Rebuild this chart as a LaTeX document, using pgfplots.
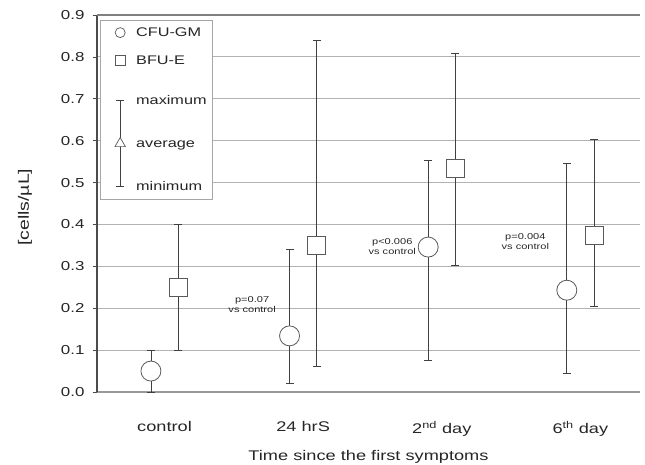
\documentclass[border=0pt]{standalone}
\usepackage{fontspec}
\setmainfont{Liberation Sans}[FakeStretch=1.3]
\usepackage{pgfplots}
\usepackage{pgfplotstable}
\pgfplotsset{compat=1.18}

% group centres at 0,1,2,3; CFU-GM left of centre, BFU-E right of centre
\pgfplotstableread{
x      avg    max    min
-0.098 0.050  0.100  0.000
0.902  0.134  0.340  0.021
1.902  0.346  0.553  0.076
2.902  0.243  0.546  0.045
}\cfugm
\pgfplotstableread{
x      avg    max    min
0.098  0.250  0.400  0.100
1.098  0.350  0.840  0.062
2.098  0.534  0.808  0.303
3.098  0.375  0.603  0.204
}\bfue

\pgfplotsset{
  whisker/.style={forget plot, only marks, mark=none,
    error bars/.cd, y dir=both, y explicit,
    error bar style={black!75, line width=0.8pt}, error mark=none},
  cap/.style={forget plot, only marks, mark=-, mark size=4pt,
    mark options={black!75, line width=0.8pt}},
}

\begin{document}
\begin{tikzpicture}
\useasboundingbox (-97pt,-72pt) rectangle (548pt,392pt);
\begin{axis}[
    scale only axis,
    width=543pt, height=377pt,
    xmin=-0.487, xmax=3.43,
    ymin=0, ymax=0.9,
    clip=false,
    axis x line*=bottom, axis y line*=left,
    axis line style={-},
    x axis line style={line width=2.2pt, black!40},
    y axis line style={line width=1.4pt, black!70},
    xtick={0,1,2,3},
    xticklabels={control, 24 hrS, 2\textsuperscript{nd} day, 6\textsuperscript{th} day},
    xtick style={draw=none},
    xticklabel style={font=\fontsize{14}{16}\selectfont, text=black!85, yshift=-22pt},
    ytick={0,0.1,...,0.9},
    ytick style={black!70, line width=0.6pt},
    tick align=outside,
    major tick length=4pt,
    /pgf/number format/assume math mode=true,
    yticklabel style={font=\fontsize{13}{15}\selectfont, text=black!85, xshift=-5pt,
        /pgf/number format/.cd, fixed, fixed zerofill, precision=1},
    ymajorgrids,
    grid style={black!30, line width=0.8pt},
    extra y ticks={0.9},
    extra y tick labels={},
    extra y tick style={grid style={black!50, line width=1.6pt}, tick style={draw=none}},
    xlabel={Time since the first symptoms},
    xlabel style={font=\fontsize{14}{16}\selectfont, text=black!85,
        at={(axis description cs:0.5,-0.172)}, anchor=center},
    ylabel={[cells/µL]},
    ylabel style={font=\fontsize{15}{17}\selectfont, text=black!85,
        at={(axis description cs:-0.1326,0.49)}, anchor=center},
    legend cell align=left,
    legend style={at={(0.0055,0.987)}, anchor=north west,
        draw=black!35, fill=white, inner sep=6pt,
        font=\fontsize{12.5}{14}\selectfont, text=black!85,
        row sep=25.5pt, column sep=4pt,
        nodes={inner sep=0pt, text height=10pt, text depth=3pt}},
]

% whiskers first, then caps, then the average markers on top
\addplot[whisker] table[x=x, y=avg,
    y error plus expr=\thisrow{max}-\thisrow{avg},
    y error minus expr=\thisrow{avg}-\thisrow{min}] {\cfugm};
\addplot[whisker] table[x=x, y=avg,
    y error plus expr=\thisrow{max}-\thisrow{avg},
    y error minus expr=\thisrow{avg}-\thisrow{min}] {\bfue};
\addplot[cap] table[x=x, y=max] {\cfugm};
\addplot[cap] table[x=x, y=min] {\cfugm};
\addplot[cap] table[x=x, y=max] {\bfue};
\addplot[cap] table[x=x, y=min] {\bfue};

\addplot[forget plot, only marks, mark=*, mark size=10pt,
    mark options={draw=black!65, fill=white, line width=0.8pt}]
    table[x=x, y=avg] {\cfugm};
\addplot[forget plot, only marks, mark=square*, mark size=9pt,
    mark options={draw=black!65, fill=white, line width=0.8pt}]
    table[x=x, y=avg] {\bfue};

% legend
\addlegendimage{legend image code/.code={
    \path[draw=none, fill=none] (0pt,-5pt) rectangle (26pt,5pt);
    \path[draw=none] plot[mark=*, mark size=5pt, mark options={draw=black!65, fill=white, line width=0.7pt}] coordinates {(14pt,0pt)};}}
\addlegendentry{CFU-GM}
\addlegendimage{legend image code/.code={
    \path[draw=none, fill=none] (0pt,-5pt) rectangle (26pt,5pt);
    \path[draw=none, overlay] plot[mark=square*, mark size=5pt, mark options={draw=black!65, fill=white, line width=0.7pt}] coordinates {(14pt,10.5pt)};}}
\addlegendentry{\raisebox{10.5pt}{BFU-E}}
\addlegendimage{legend image code/.code={\path[draw=none, fill=none] (0pt,-5pt) rectangle (26pt,5pt);}}
\addlegendentry{\raisebox{9pt}{maximum}}
\addlegendimage{legend image code/.code={
    \path[draw=none, fill=none] (0pt,-5pt) rectangle (26pt,5pt);
    \draw[overlay, black!75, line width=0.7pt] (14pt,47.5pt) -- (14pt,-38.5pt);
    \draw[overlay, black!75, line width=0.7pt] (10pt,47.5pt) -- (18pt,47.5pt);
    \draw[overlay, black!75, line width=0.7pt] (10pt,-38.5pt) -- (18pt,-38.5pt);
    \path[draw=none, overlay] plot[mark=triangle*, mark size=6pt, mark options={draw=black!65, fill=white, line width=0.7pt}] coordinates {(14pt,4.5pt)};}}
\addlegendentry{\raisebox{4.5pt}{average}}
\addlegendimage{legend image code/.code={\path[draw=none, fill=none] (0pt,-5pt) rectangle (26pt,5pt);}}
\addlegendentry{minimum}

% p-value notes
\node[font=\fontsize{8.5}{10}\selectfont, text=black!85, align=center] at (axis cs:0.632,0.208) {p=0.07\\vs control};
\node[font=\fontsize{8.5}{10}\selectfont, text=black!85, align=center] at (axis cs:1.643,0.348) {p<0.006\\vs control};
\node[font=\fontsize{8.5}{10}\selectfont, text=black!85, align=center] at (axis cs:2.603,0.358) {p=0.004\\vs control};
\end{axis}
\end{tikzpicture}
\end{document}
